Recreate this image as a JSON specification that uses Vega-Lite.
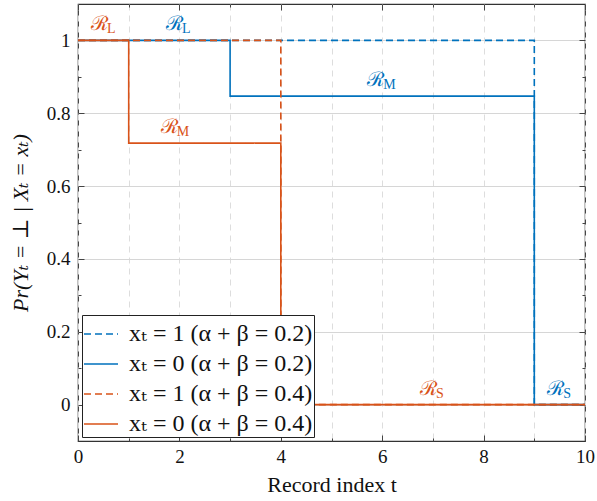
{
  "$schema": "https://vega.github.io/schema/vega-lite/v6.json",
  "autosize": "none",
  "width": 507,
  "height": 437,
  "padding": {"left": 78, "top": 4, "right": 12, "bottom": 60},
  "config": {
    "font": "Liberation Serif, DejaVu Serif, serif",
    "view": {"stroke": "#333333", "strokeWidth": 1.2},
    "axis": {"domain": false, "labelFont": "Liberation Serif, DejaVu Serif, serif", "titleFont": "Liberation Serif, DejaVu Serif, serif", "labelFontSize": 19, "titleFontSize": 19, "labelColor": "#111", "titleColor": "#111", "tickColor": "#444", "titleFontWeight": "normal", "labelFlush": false},
    "legend": {"labelFont": "Liberation Serif, DejaVu Serif, serif"}
  },
  "datasets": {
    "lines": [
      {"series": "xₜ = 1 (α + β = 0.2)", "i": 0, "t": 0, "p": 1},
      {"series": "xₜ = 1 (α + β = 0.2)", "i": 1, "t": 9, "p": 1},
      {"series": "xₜ = 1 (α + β = 0.2)", "i": 2, "t": 9, "p": 0},
      {"series": "xₜ = 1 (α + β = 0.2)", "i": 3, "t": 10, "p": 0},
      {"series": "xₜ = 0 (α + β = 0.2)", "i": 0, "t": 0, "p": 1},
      {"series": "xₜ = 0 (α + β = 0.2)", "i": 1, "t": 3, "p": 1},
      {"series": "xₜ = 0 (α + β = 0.2)", "i": 2, "t": 3, "p": 0.847},
      {"series": "xₜ = 0 (α + β = 0.2)", "i": 3, "t": 9, "p": 0.847},
      {"series": "xₜ = 0 (α + β = 0.2)", "i": 4, "t": 9, "p": 0},
      {"series": "xₜ = 0 (α + β = 0.2)", "i": 5, "t": 10, "p": 0},
      {"series": "xₜ = 1 (α + β = 0.4)", "i": 0, "t": 0, "p": 1},
      {"series": "xₜ = 1 (α + β = 0.4)", "i": 1, "t": 4, "p": 1},
      {"series": "xₜ = 1 (α + β = 0.4)", "i": 2, "t": 4, "p": 0},
      {"series": "xₜ = 1 (α + β = 0.4)", "i": 3, "t": 10, "p": 0},
      {"series": "xₜ = 0 (α + β = 0.4)", "i": 0, "t": 0, "p": 1},
      {"series": "xₜ = 0 (α + β = 0.4)", "i": 1, "t": 1, "p": 1},
      {"series": "xₜ = 0 (α + β = 0.4)", "i": 2, "t": 1, "p": 0.718},
      {"series": "xₜ = 0 (α + β = 0.4)", "i": 3, "t": 4, "p": 0.718},
      {"series": "xₜ = 0 (α + β = 0.4)", "i": 4, "t": 4, "p": 0},
      {"series": "xₜ = 0 (α + β = 0.4)", "i": 5, "t": 10, "p": 0}
    ],
    "labels": [
      {"series": "xₜ = 0 (α + β = 0.4)", "t": 0.57, "p": 1.028, "sub": "L"},
      {"series": "xₜ = 0 (α + β = 0.2)", "t": 2.05, "p": 1.028, "sub": "L"},
      {"series": "xₜ = 0 (α + β = 0.4)", "t": 1.95, "p": 0.745, "sub": "M"},
      {"series": "xₜ = 0 (α + β = 0.2)", "t": 6.02, "p": 0.874, "sub": "M"},
      {"series": "xₜ = 0 (α + β = 0.4)", "t": 7.06, "p": 0.025, "sub": "S"},
      {"series": "xₜ = 0 (α + β = 0.2)", "t": 9.57, "p": 0.025, "sub": "S"}
    ]
  },
  "resolve": {"axis": {"x": "independent", "y": "independent"}},
  "layer": [
    {
      "data": {"name": "lines"},
      "mark": {"type": "line", "strokeWidth": 1.6, "clip": true},
      "encoding": {
        "x": {"field": "t", "type": "quantitative", "scale": {"domain": [0, 10], "nice": false, "zero": false},
          "axis": {"orient": "bottom", "title": "Record index t", "titleFontSize": 22, "format": "d", "values": [0,1,2,3,4,5,6,7,8,9,10],
            "labelExpr": "datum.value % 2 == 1 ? '' : datum.label", "grid": true, "gridDash": [6, 5], "gridColor": "#dddddd", "gridWidth": 1,
            "tickSize": {"condition": {"test": "datum.value % 2 == 1", "value": -3}, "value": -6}, "labelPadding": 12, "titlePadding": 8}},
        "y": {"field": "p", "type": "quantitative", "scale": {"domain": [-0.1, 1.1], "nice": false, "zero": false},
          "axis": {"orient": "left", "title": "Pr(Yₜ = ⊥ | Xₜ = xₜ)", "titleFontSize": 22, "titleFontStyle": "italic", "format": ".1~f", "values": [0,0.1,0.2,0.3,0.4,0.5,0.6,0.7,0.8,0.9,1],
            "labelExpr": "round(datum.value*10) % 2 == 1 ? '' : datum.label", "grid": true, "gridColor": "#d6d6d6", "gridWidth": 1,
            "gridOpacity": {"condition": {"test": "round(datum.value*10) % 2 == 1", "value": 0}, "value": 1},
            "tickSize": {"condition": {"test": "round(datum.value*10) % 2 == 1", "value": -3}, "value": -6}, "labelPadding": 14, "titlePadding": 14}},
        "color": {"field": "series", "type": "nominal",
          "scale": {"domain": ["xₜ = 1 (α + β = 0.2)", "xₜ = 0 (α + β = 0.2)", "xₜ = 1 (α + β = 0.4)", "xₜ = 0 (α + β = 0.4)"], "range": ["#0072BD", "#0072BD", "#D95319", "#D95319"]},
          "legend": {"title": null, "orient": "bottom-left", "offset": 4, "padding": 1, "fillColor": "white", "strokeColor": "#222222",
            "labelFontSize": 24, "labelColor": "#111", "symbolType": "stroke", "symbolSize": 1156, "symbolStrokeWidth": 1.6,
            "labelOffset": 10, "rowPadding": -8, "labelLimit": 300}},
        "strokeDash": {"field": "series", "type": "nominal",
          "scale": {"domain": ["xₜ = 1 (α + β = 0.2)", "xₜ = 0 (α + β = 0.2)", "xₜ = 1 (α + β = 0.4)", "xₜ = 0 (α + β = 0.4)"], "range": [[7, 4], [1, 0], [7, 4], [1, 0]]},
          "legend": {"title": null, "orient": "bottom-left"}},
        "order": {"field": "i", "type": "quantitative"}
      }
    },
    {
      "data": {"name": "labels"},
      "mark": {"type": "text", "align": "right", "baseline": "alphabetic", "font": "DejaVu Serif", "fontSize": 20, "dx": 1},
      "encoding": {
        "x": {"field": "t", "type": "quantitative", "axis": {"orient": "top", "title": null, "labels": false, "grid": false, "values": [0,1,2,3,4,5,6,7,8,9,10],
          "tickSize": {"condition": {"test": "datum.value % 2 == 1", "value": -3}, "value": -6}}},
        "y": {"field": "p", "type": "quantitative", "axis": {"orient": "right", "title": null, "labels": false, "grid": false, "values": [0,0.1,0.2,0.3,0.4,0.5,0.6,0.7,0.8,0.9,1],
          "tickSize": {"condition": {"test": "round(datum.value*10) % 2 == 1", "value": -3}, "value": -6}}},
        "color": {"field": "series", "type": "nominal", "legend": null},
        "text": {"value": "ℛ"}
      }
    },
    {
      "data": {"name": "labels"},
      "mark": {"type": "text", "align": "left", "baseline": "alphabetic", "font": "Liberation Serif, DejaVu Serif, serif", "fontSize": 14, "dx": 0, "dy": 3},
      "encoding": {
        "x": {"field": "t", "type": "quantitative", "axis": null},
        "y": {"field": "p", "type": "quantitative", "axis": null},
        "color": {"field": "series", "type": "nominal", "legend": null},
        "text": {"field": "sub"}
      }
    }
  ]
}
